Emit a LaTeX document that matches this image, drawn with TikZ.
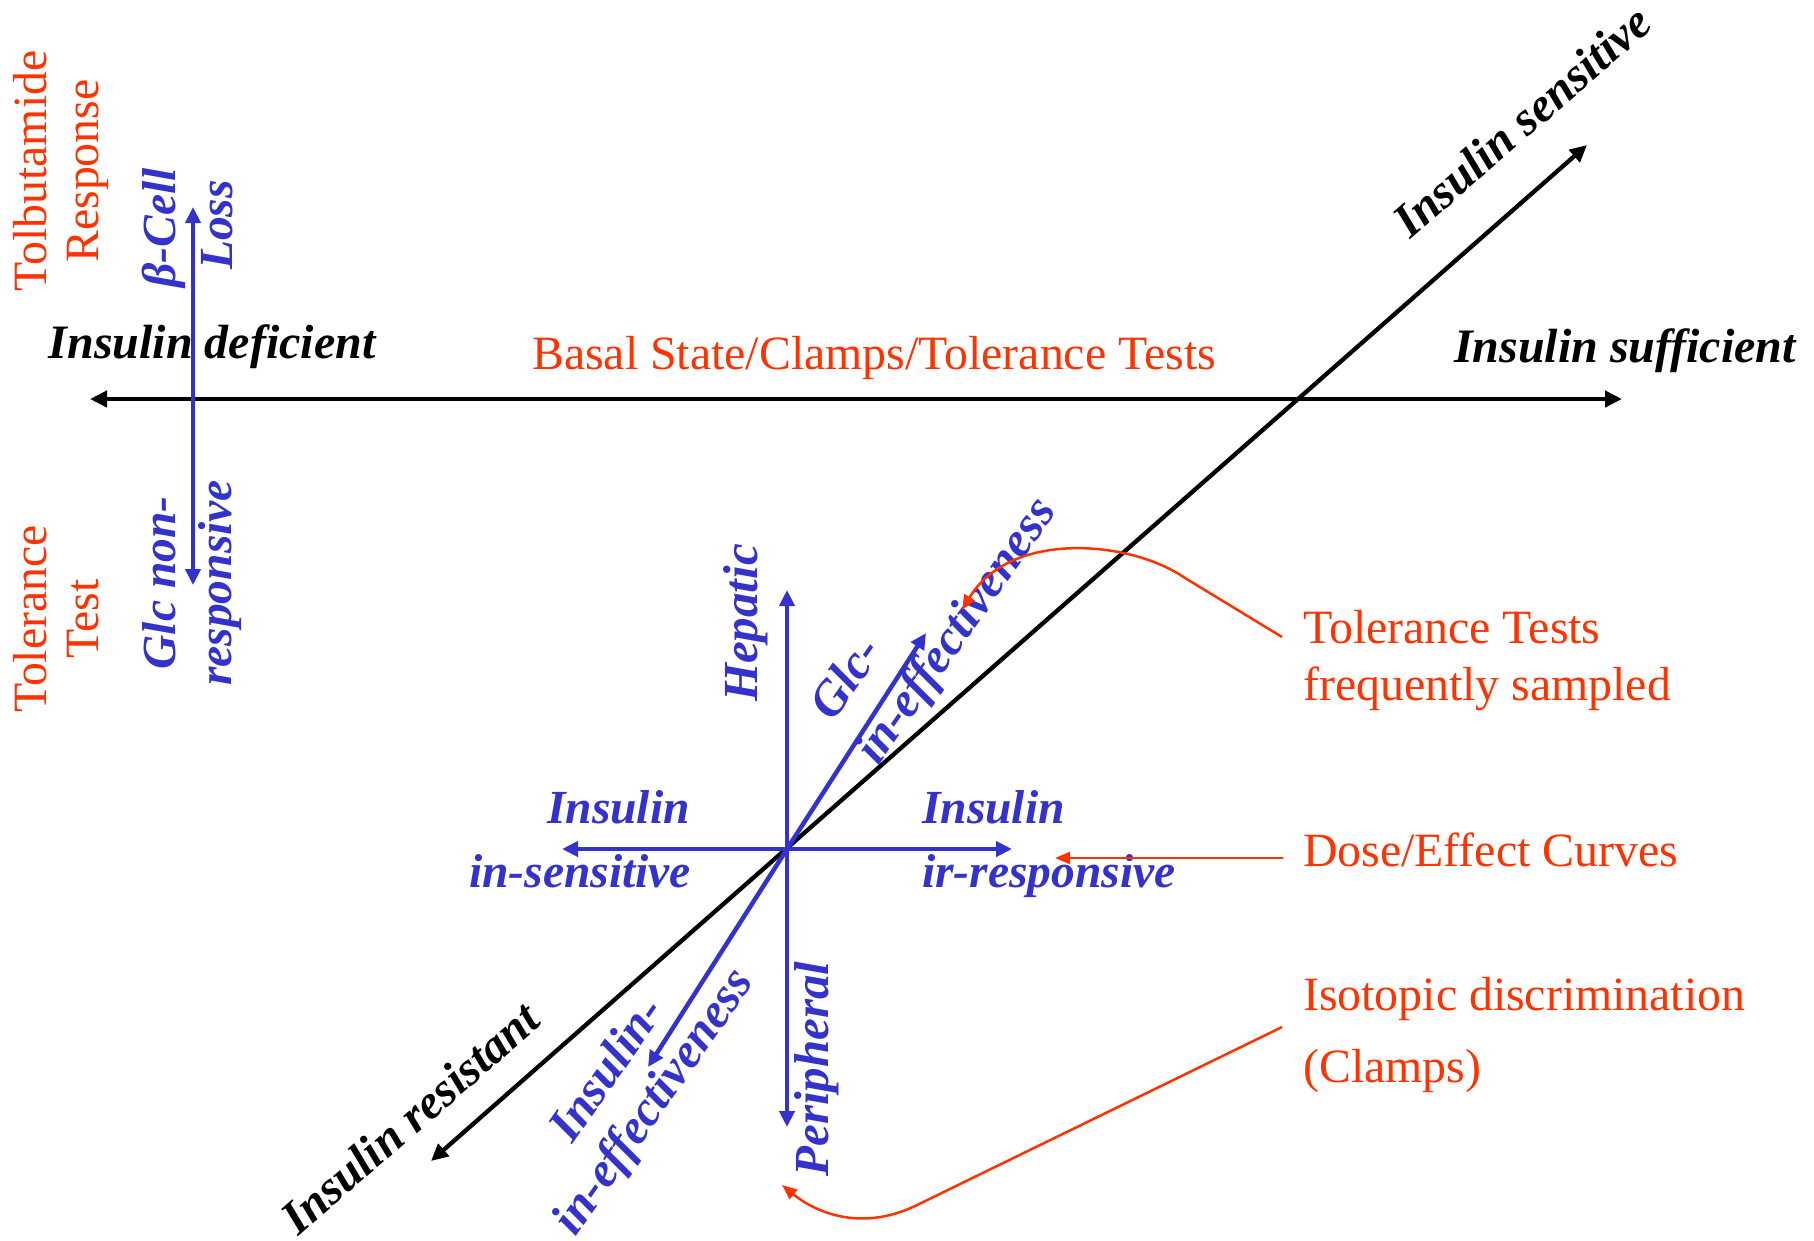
\documentclass[tikz,border=0pt]{standalone}
\usepackage{fontspec}
\setmainfont{Liberation Serif}
\usetikzlibrary{arrows.meta}
\definecolor{myred}{RGB}{255,51,0}
\definecolor{myblue}{RGB}{51,51,204}
\begin{document}
\begin{tikzpicture}[x=1pt,y=-1pt,
  redtxt/.style={text=myred, font=\fontsize{47.8pt}{54pt}\selectfont, inner sep=0pt},
  bluetxt/.style={text=myblue, font=\fontsize{47.5pt}{55pt}\selectfont\bfseries\itshape, inner sep=0pt},
  bluerot/.style={bluetxt, font=\fontsize{49pt}{56pt}\selectfont\bfseries\itshape},
  blacktxt/.style={text=black, font=\fontsize{48pt}{56pt}\selectfont\bfseries\itshape, inner sep=0pt},
  blkline/.style={draw=black, line width=4.3pt},
  blueline/.style={draw=myblue, line width=4.5pt},
  redline/.style={draw=myred, line width=2.5pt},
  bk/.tip={Triangle[length=17pt,width=16pt]},
  bl/.tip={Triangle[length=16pt,width=15pt]},
  rd/.tip={Triangle[length=15pt,width=12pt]}
]
\useasboundingbox[fill=white] (0,0) rectangle (1814,1240);

% coordinates
\coordinate (C) at (787,849);
\coordinate (hl) at (90,399);
\coordinate (hr) at (1622,399);
\coordinate (dsw) at (431,1161);
\coordinate (dne) at (1587,145);
\coordinate (vt) at (193,207);
\coordinate (vb) at (193,585);
\coordinate (up) at (787,590);
\coordinate (down) at (787,1127);
\coordinate (left) at (562,849);
\coordinate (right) at (1012,849);
\coordinate (ne) at (926,633);
\coordinate (sw) at (648,1067);

% black axes
\draw[blkline, bk-bk] (hl) -- (hr);
\draw[blkline, bk-bk] (dsw) -- (dne);

% blue axes
\draw[blueline, bl-bl] (vb) -- (vt);
\draw[blueline, -bl] (C) -- (up);
\draw[blueline, -bl] (C) -- (down);
\draw[blueline, -bl] (C) -- (left);
\draw[blueline, -bl] (C) -- (right);
\draw[blueline, -bl] (C) -- (ne);
\draw[blueline, -bl] (C) -- (sw);

% red left labels
\node[redtxt, rotate=90, anchor=base] (tolb) at (46,171) {Tolbutamide};
\node[redtxt, rotate=90, anchor=base] (resp) at (98,171) {Response};
\node[redtxt, rotate=90, anchor=base] (tolr) at (46,619) {Tolerance};
\node[redtxt, rotate=90, anchor=base] (test) at (98,619) {Test};

% blue left labels
\node[bluetxt, rotate=90, anchor=base] (bcell) at (175,228) {β-Cell};
\node[bluetxt, rotate=90, anchor=base] (loss) at (232,225) {Loss};
\node[bluetxt, rotate=90, anchor=base] (glcn) at (175,583) {Glc non-};
\node[bluetxt, rotate=90, anchor=base] (respv) at (231,583) {responsive};

% black labels
\node[blacktxt, anchor=base] (idef) at (212,358) {Insulin deficient};
\node[blacktxt, anchor=base] (isuf) at (1625,362) {Insulin sufficient};
\node[blacktxt, rotate=41, anchor=base west] (isen) at (1410,240) {Insulin sensitive};
\node[blacktxt, rotate=41] (ires) at (410,1118) {Insulin resistant};

% red top label
\node[redtxt, anchor=base west] (basal) at (532,369) {Basal State/Clamps/Tolerance Tests};

% blue cross labels
\node[bluerot, rotate=90, anchor=base] (hep) at (757,623) {Hepatic};
\node[bluerot, rotate=90, anchor=base] (peri) at (828,1069) {Peripheral};
\node[bluerot, rotate=55, anchor=base west] (glcd) at (833,723) {Glc-};
\node[bluerot, rotate=55, anchor=base west] (ineffu) at (878,767) {in-effectiveness};
\node[bluerot, rotate=55, anchor=base] (insd) at (619,1078) {Insulin-};
\node[bluerot, rotate=55, anchor=base] (ineffl) at (665,1110) {in-effectiveness};
\node[bluetxt, anchor=base east] (insl) at (690,823) {Insulin};
\node[bluetxt, anchor=base east] (insens) at (691,887) {in-sensitive};
\node[bluetxt, anchor=base west] (insr) at (922,823) {Insulin};
\node[bluetxt, anchor=base west] (irresp) at (922,887) {ir-responsive};

% red right labels
\node[redtxt, anchor=base west] (tt1) at (1303,643) {Tolerance Tests};
\node[redtxt, anchor=base west] (tt2) at (1303,700) {frequently sampled};
\node[redtxt, anchor=base west] (dose) at (1303,866) {Dose/Effect Curves};
\node[redtxt, anchor=base west] (iso1) at (1303,1010) {Isotopic discrimination};
\node[redtxt, anchor=base west] (iso2) at (1303,1082) {(Clamps)};

% red connectors
\coordinate (r1s) at (1282,637);
\coordinate (r1m) at (1185,578);
\coordinate (r1e) at (962,610);
\draw[redline, -rd] (r1s) -- (r1m) .. controls (1130,540) and (1010,530) .. (r1e);
\coordinate (r2s) at (1283,858);
\coordinate (r2e) at (1055,858);
\draw[redline, -rd] (r2s) -- (r2e);
\coordinate (r3s) at (1282,1027);
\coordinate (r3m) at (915,1206);
\coordinate (r3e) at (782,1185);
\draw[redline, -rd] (r3s) -- (r3m) .. controls (860,1232) and (815,1212) .. (r3e);
\end{tikzpicture}
\end{document}
